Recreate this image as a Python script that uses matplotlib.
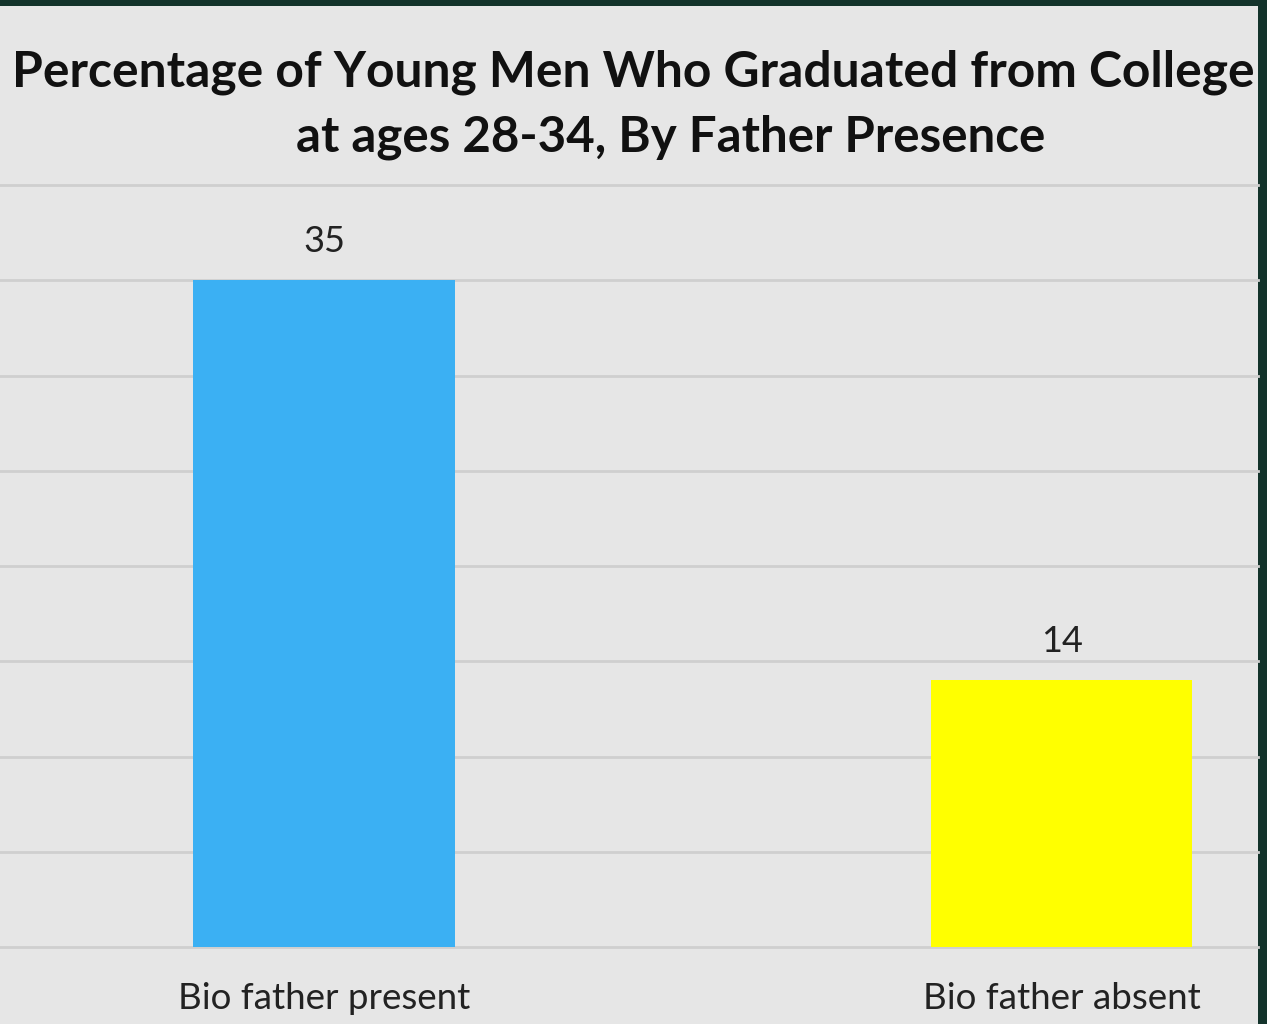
import matplotlib.pyplot as plt
from matplotlib.patches import Rectangle
import numpy as np

categories = ['Bio father present', 'Bio father absent']
values = [35, 14]
bar_colors = ['#3bb0f3', '#ffff00']
title_line1 = 'Percentage of Young Men Who Graduated from College'
title_line2 = 'at ages 28-34, By Father Presence'

plt.rcParams['font.family'] = ['Lato', 'DejaVu Sans']

fig = plt.figure(figsize=(12.67, 10.24), dpi=100)
fig.patch.set_facecolor('#13332b')

# gray panel behind the chart
panel = Rectangle((0, 0), 1258 / 1267, (1024 - 6) / 1024, transform=fig.transFigure,
                  facecolor='#e6e6e6', edgecolor='none', zorder=-10)
fig.patches.append(panel)

ax = fig.add_axes([0, 77 / 1024, 1258 / 1267, 762 / 1024])
ax.set_facecolor('none')
ax.set_zorder(1)

x = np.arange(len(categories))
bars = ax.bar(x, values, width=0.355, color=bar_colors, zorder=3)

ax.set_ylim(0, 40)
ax.set_xlim(-0.4393, 1.2664)
ax.set_yticks(np.arange(0, 41, 5))
ax.yaxis.grid(True, color='#cfcfcf', linewidth=2)
for gl in ax.get_ygridlines():
    gl.set_clip_on(False)
ax.set_axisbelow(True)
ax.tick_params(axis='y', left=False, labelleft=False)
ax.set_xticks(x)
ax.set_xticklabels(categories, fontsize=26.5, color='#222222')
ax.tick_params(axis='x', length=0, pad=25)
for s in ax.spines.values():
    s.set_visible(False)

for b, v in zip(bars, values):
    ax.annotate(str(v), (b.get_x() + b.get_width() / 2, v), xytext=(0, 28),
                textcoords='offset points', ha='center', va='center',
                fontsize=26, color='#222222')

fig.text(633 / 1267, 1 - 72 / 1024, title_line1, ha='center', va='center',
         fontsize=35.8, fontweight='bold', color='#111111')
fig.text(671 / 1267, 1 - 137 / 1024, title_line2, ha='center', va='center',
         fontsize=35.5, fontweight='bold', color='#111111')

fig.savefig('out.png', dpi=100, facecolor=fig.get_facecolor())
